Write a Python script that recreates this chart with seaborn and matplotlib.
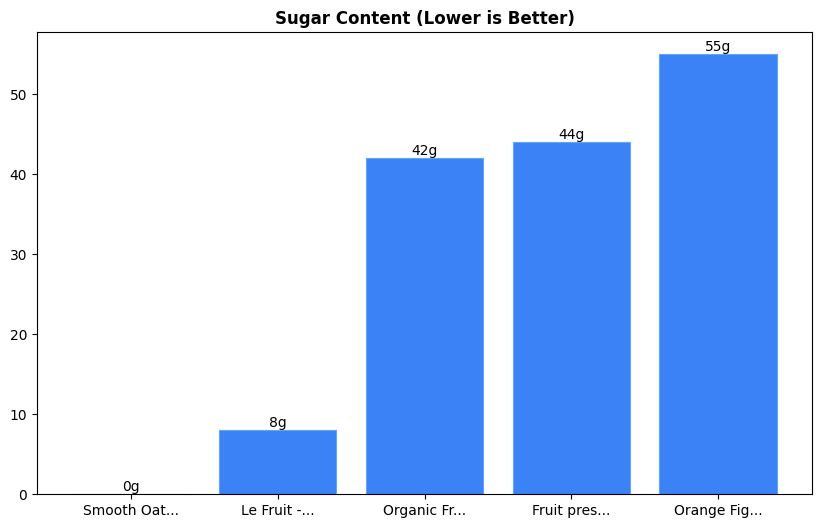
import matplotlib
matplotlib.use("Agg")
import matplotlib.pyplot as plt
import seaborn as sns
import pandas as pd

products = ["Smooth Oat...", "Le Fruit -...", "Organic Fr...", "Fruit pres...", "Orange Fig..."]
sugar = [0, 8, 42, 44, 55]

df = pd.DataFrame({"product": products, "sugar": sugar})

fig, ax = plt.subplots(figsize=(8.22, 5.28), dpi=100)
sns.barplot(data=df, x="product", y="sugar", color="#3b82f6", saturation=1,
            edgecolor="#60a5fa", linewidth=0.8, width=0.8, ax=ax)
for c in ax.containers:
    ax.bar_label(c, labels=[f"{v}g" for v in sugar])

ax.set_title("Sugar Content (Lower is Better)", fontweight="bold")
ax.set_xlabel("")
ax.set_ylabel("")
ax.set_xlim(-0.64, 4.64)
ax.set_ylim(0, 57.75)
plt.subplots_adjust(left=0.045, right=0.988, top=0.939, bottom=0.064)
plt.savefig("out.png")
